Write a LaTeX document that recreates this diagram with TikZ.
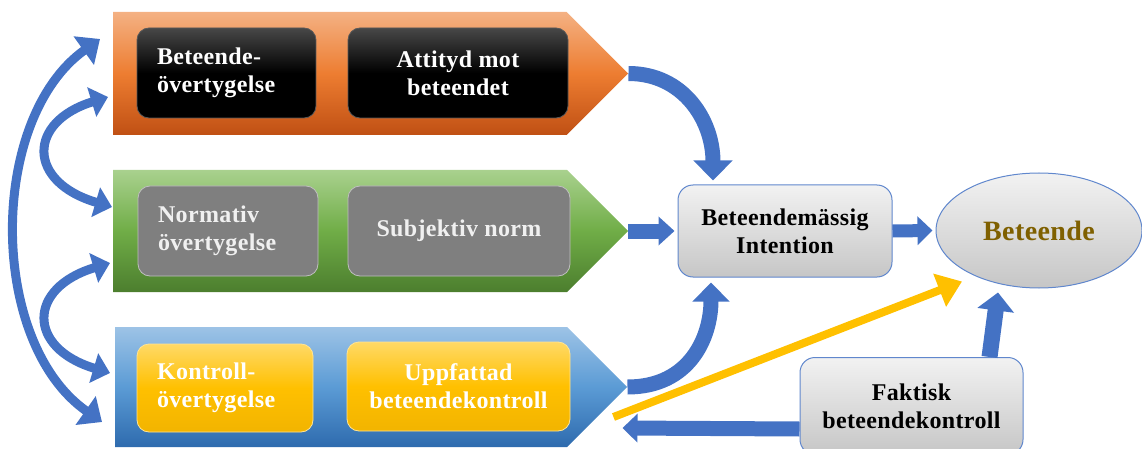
\documentclass[tikz,border=0pt]{standalone}
\usepackage{fontspec}
\setmainfont{Liberation Serif}[LetterSpace=1.5]
\usetikzlibrary{arrows.meta,calc,shapes.geometric,shapes.symbols}

\definecolor{arrowblue}{RGB}{68,114,196}
\definecolor{arrowyellow}{RGB}{255,192,0}
\definecolor{oratop}{RGB}{244,177,131}
\definecolor{oramid}{RGB}{237,125,49}
\definecolor{orabot}{RGB}{192,80,20}
\definecolor{gretop}{RGB}{169,209,142}
\definecolor{gremid}{RGB}{112,173,71}
\definecolor{grebot}{RGB}{76,126,46}
\definecolor{blutop}{RGB}{157,195,230}
\definecolor{blumid}{RGB}{91,155,213}
\definecolor{blubot}{RGB}{46,107,174}
\definecolor{yeltop}{RGB}{255,217,102}
\definecolor{yelmid}{RGB}{255,192,0}
\definecolor{yelbot}{RGB}{242,180,0}
\definecolor{greybox}{RGB}{127,127,127}
\definecolor{lighttop}{RGB}{242,242,242}
\definecolor{lightbot}{RGB}{198,198,198}
\definecolor{behtext}{RGB}{127,96,0}

\newcommand{\boxfont}{\fontsize{24}{28}\selectfont\bfseries}

\tikzset{
  band/.style={signal, signal to=east, signal from=nowhere, signal pointer angle=90,
    anchor=west, inner sep=0pt, draw=none},
  orashade/.style={top color=oratop, bottom color=orabot, middle color=oramid},
  greshade/.style={top color=gretop, bottom color=grebot, middle color=gremid},
  blushade/.style={top color=blutop, bottom color=blubot, middle color=blumid},
  inbox/.style={rounded corners=12pt, inner ysep=0pt, inner xsep=20pt, minimum height=90pt,
    font=\boxfont, text=white, line width=0.8pt},
  blackbox/.style={inbox, draw=black!65, top color=black!72, bottom color=black, middle color=black},
  normbox/.style={inbox, draw=black!25, fill=greybox, text=black!6},
  ctrlbox/.style={inbox, draw=yeltop!70, top color=yeltop, bottom color=yelbot, middle color=yelmid},
  lightbox/.style={draw=arrowblue!85, line width=1pt, top color=lighttop, bottom color=lightbot,
    font=\boxfont, inner sep=0pt},
  fatarrow/.style={draw=arrowblue, line width=15pt},
  arcarrow/.style={draw=arrowblue, line width=9pt},
}

\begin{document}
\begin{tikzpicture}[x=1pt,y=1pt,yscale=-1]
\useasboundingbox (0,0) rectangle (1142,449);

% bands
\node[band, orashade, minimum width=515pt, minimum height=123pt] (attband) at (113,73.5) {};
\node[band, greshade, minimum width=515pt, minimum height=122pt] (normband) at (113,231) {};
\node[band, blushade, minimum width=512pt, minimum height=120pt] (ctrlband) at (115,387) {};

% boxes in the bands
\node[blackbox, minimum width=179pt, text width=139pt, align=left] (attbel) at (226.5,73) {Beteende-\\övertygelse};
\node[blackbox, minimum width=220pt, align=center] (attitude) at (458,73) {Attityd mot\\beteendet};
\node[normbox, minimum width=180pt, text width=140pt, align=left] (normbel) at (228,231) {Normativ\\övertygelse};
\node[normbox, minimum width=222pt, align=center] (subnorm) at (459,231) {Subjektiv norm};
\node[ctrlbox, minimum width=176pt, text width=136pt, align=left, minimum height=88pt] (ctrlbel) at (225,388) {Kontroll-\\övertygelse};
\node[ctrlbox, minimum width=223pt, align=center, minimum height=89pt] (percctrl) at (458.5,386.5) {Uppfattad\\beteendekontroll};

% right side
\node[lightbox, rounded corners=15pt, minimum width=214pt, minimum height=92pt, align=center] (intent) at (785,231) {Beteendemässig\\Intention};
\node[lightbox, ellipse, minimum width=206pt, minimum height=115pt, text=behtext,
  font=\fontsize{28}{32}\selectfont\bfseries] (beh) at (1039,230.5) {Beteende};
\node[lightbox, rounded corners=15pt, minimum width=223pt, minimum height=97pt, align=center] (fakt) at (911.5,406) {Faktisk\\beteendekontroll};

% arrows
\draw[fatarrow, -{Triangle[width=38pt,length=20pt]}] (attband.east) .. controls +(55,0) and +(0,-60) .. ($(intent.north)+(-72,-4)$);
\draw[fatarrow, -{Triangle[width=28pt,length=16pt]}] (normband.east) -- ($(intent.west)+(-3,0)$);
\draw[fatarrow, -{Triangle[width=36pt,length=19pt]}] (ctrlband.east) .. controls +(62,0) and +(0,55) .. ($(intent.south)+(-74,5)$);
\draw[fatarrow, line width=13pt, -{Triangle[width=28pt,length=15pt]}] (intent.east) -- ($(beh.west)+(-3,0)$);
\draw[fatarrow, line width=16pt, -{Triangle[width=36pt,length=18pt]}] ($(fakt.north)+(78,0)$) -- ($(beh.south)+(-41,4)$);
\draw[fatarrow, -{Triangle[width=28pt,length=15pt]}] ($(fakt.west)+(0,23)$) -- ($(ctrlband.east)+(-5,41)$);
\draw[draw=arrowyellow, line width=8pt, -{Triangle[width=34pt,length=24pt]}] ($(ctrlband.east)+(-14,30)$) -- ($(beh.center)+(-77,51)$);

% left arcs
\draw[arcarrow, {Triangle[width=34pt,length=20pt]}-{Triangle[width=34pt,length=20pt]}] ($(attband.west)+(-13,-34.5)$) .. controls (-12,119) and (-12,342) .. ($(ctrlband.west)+(-13,35)$);
\draw[arcarrow, {Triangle[width=30pt,length=17pt]}-{Triangle[width=30pt,length=17pt]}] ($(attband.west)+(-5,23.5)$) .. controls (27,122) and (27,182) .. ($(normband.west)+(-1,-24)$);
\draw[arcarrow, {Triangle[width=30pt,length=17pt]}-{Triangle[width=30pt,length=17pt]}] ($(normband.west)+(-3,32)$) .. controls (27,288) and (27,348) .. ($(ctrlband.west)+(-5,-14)$);

\end{tikzpicture}
\end{document}
